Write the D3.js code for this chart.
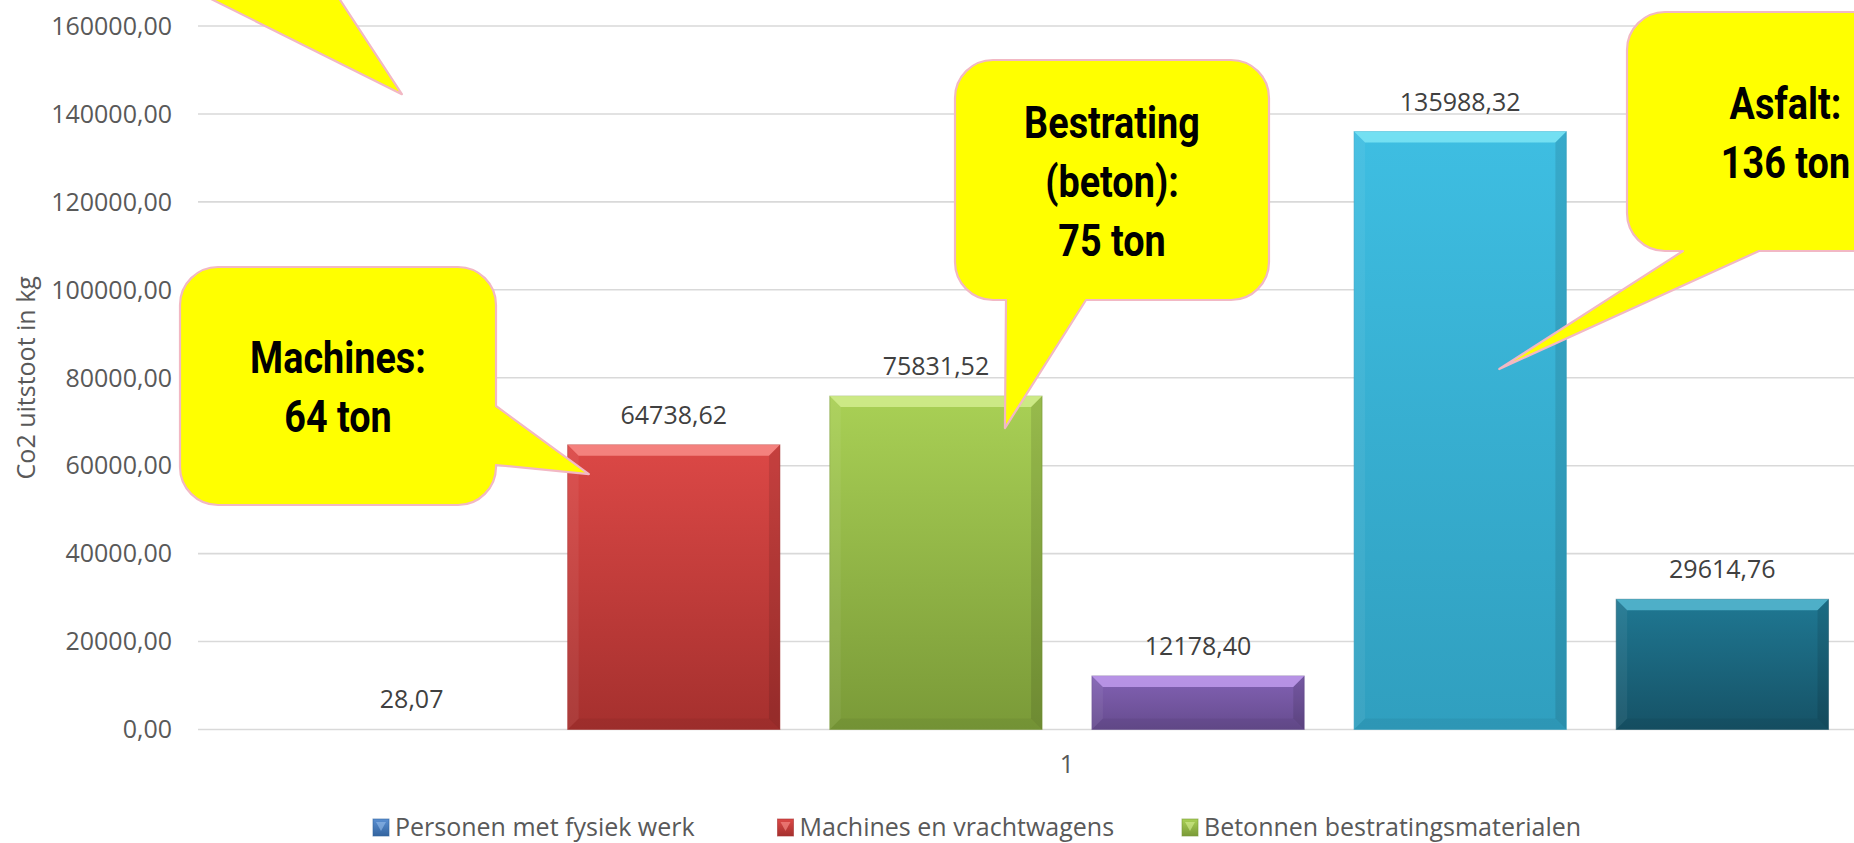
<!DOCTYPE html>
<html>
<head>
<meta charset="utf-8">
<script src="https://cdn.jsdelivr.net/npm/d3@7"></script>
<style>
  body { margin: 0; background: #fff; }
  svg { display: block; font-family: "Open Sans", sans-serif; }
</style>
</head>
<body>
<svg id="chart" width="1854" height="843"></svg>
<script>
// data
const categories = ["1"];
const values = [28.07, 64738.62, 75831.52, 12178.40, 135988.32, 29614.76];
const legendNames = ["Personen met fysiek werk", "Machines en vrachtwagens", "Betonnen bestratingsmaterialen"];
const yTicks = [0, 20000, 40000, 60000, 80000, 100000, 120000, 140000, 160000];
const yTitle = "Co2 uitstoot in kg";

// bar colours: top / bottom of the gradient, bevel highlight
const barColors = [
  ["#5a8fd2", "#33649f", "#9cc2ef"],
  ["#dc4846", "#a5302e", "#ff9a96"],
  ["#a9d055", "#7a9a38", "#dcf49a"],
  ["#8262b4", "#664b8e", "#cfa8fb"],
  ["#3ebee2", "#309fbf", "#8aeefa"],
  ["#1f7893", "#165266", "#62c8e0"]
];

// speech bubbles; tip given as (series, fraction across the bar, value)
const callouts = [
  {lines: [], series: 0, fx: 0.454, at: 144500, box: [100, -260, 420, -20], side: "bottom", base: [173, 327]},
  {lines: ["Machines:", "64 ton"], series: 1, fx: 0.1, at: 58100, box: [180, 267, 496, 505], side: "right", base: [406, 465]},
  {lines: ["Bestrating", "(beton):", "75 ton"], series: 2, fx: 0.825, at: 68560, box: [955, 60, 1269, 300], side: "bottom", base: [1006, 1086]},
  {lines: ["Asfalt:", "136 ton"], series: 4, fx: 0.684, at: 81980, box: [1627, 12, 1944, 251], side: "bottom", base: [1683, 1759]}
];

const nl = d3.formatLocale({decimal: ",", thousands: ".", grouping: [3], currency: ["€", ""]});
const fmt = nl.format(".2f");

const svg = d3.select("#chart");
const margin = {left: 198, right: 1936, top: 26, bottom: 729.5};

const x0 = d3.scaleBand(categories, [margin.left, margin.right]);
const x1 = d3.scaleBand(d3.range(values.length), [0, x0.bandwidth()])
    .paddingInner(0.19)
    .paddingOuter(0.41);
const y = d3.scaleLinear([0, 160000], [margin.bottom, margin.top]);

const defs = svg.append("defs");
barColors.forEach((c, i) => {
  const g = defs.append("linearGradient")
      .attr("id", "grad" + i)
      .attr("x1", 0).attr("y1", 0).attr("x2", 0).attr("y2", 1);
  g.append("stop").attr("offset", "0%").attr("stop-color", c[0]);
  g.append("stop").attr("offset", "100%").attr("stop-color", c[1]);
});

// gridlines
svg.append("g")
  .selectAll("line")
  .data(yTicks)
  .join("line")
    .attr("x1", margin.left)
    .attr("x2", margin.right)
    .attr("y1", d => y(d))
    .attr("y2", d => y(d))
    .attr("stroke", "#d9d9d9")
    .attr("stroke-width", 1.6);

// y tick labels
svg.append("g")
    .attr("fill", "#595959")
    .attr("font-size", 25)
    .attr("text-anchor", "end")
  .selectAll("text")
  .data(yTicks)
  .join("text")
    .attr("x", 172)
    .attr("y", d => y(d))
    .attr("dy", "0.35em")
    .text(d => fmt(d));

svg.append("text")
    .attr("transform", `translate(35,${(margin.top + margin.bottom) / 2})rotate(-90)`)
    .attr("text-anchor", "middle")
    .attr("fill", "#595959")
    .attr("font-size", 25)
    .text(yTitle);

// category label
svg.append("text")
    .attr("x", x0("1") + x0.bandwidth() / 2)
    .attr("y", 773)
    .attr("text-anchor", "middle")
    .attr("fill", "#595959")
    .attr("font-size", 25)
    .text(categories[0]);

// bars with a bevel
const bw = x1.bandwidth();
const bars = svg.append("g")
  .selectAll("g")
  .data(values.map((v, i) => ({v, i})).filter(d => y(0) - y(d.v) >= 1))
  .join("g")
    .attr("transform", d => `translate(${x0("1") + x1(d.i)},0)`);

bars.append("rect")
    .attr("y", d => y(d.v))
    .attr("width", bw)
    .attr("height", d => y(0) - y(d.v))
    .attr("fill", d => `url(#grad${d.i})`)
    .attr("stroke", d => barColors[d.i][1])
    .attr("stroke-opacity", 0.5);

function bevel(d) {
  const t = y(d.v), h = y(0) - t, b = Math.min(11, h / 2), w = bw;
  return [
    {pts: [[0, t], [w, t], [w - b, t + b], [b, t + b]], fill: barColors[d.i][2], op: 0.7},
    {pts: [[0, t], [b, t + b], [b, t + h - b], [0, t + h]], fill: "#ffffff", op: 0.06},
    {pts: [[w, t], [w - b, t + b], [w - b, t + h - b], [w, t + h]], fill: "#000000", op: 0.1},
    {pts: [[0, t + h], [b, t + h - b], [w - b, t + h - b], [w, t + h]], fill: "#000000", op: 0.05}
  ];
}

bars.selectAll("polygon")
  .data(d => bevel(d))
  .join("polygon")
    .attr("points", p => p.pts.join(" "))
    .attr("fill", p => p.fill)
    .attr("fill-opacity", p => p.op);

// value labels
svg.append("g")
    .attr("fill", "#404040")
    .attr("font-size", 25)
    .attr("text-anchor", "middle")
  .selectAll("text")
  .data(values.map((v, i) => ({v, i})))
  .join("text")
    .attr("x", d => x0("1") + x1(d.i) + bw / 2)
    .attr("y", d => y(d.v) - 21)
    .text(d => fmt(d.v));

// legend
const legend = svg.append("g")
  .selectAll("g")
  .data(legendNames)
  .join("g")
    .attr("transform", (d, i) => `translate(${373 + i * 404.5},819)`);

legend.append("rect")
    .attr("width", 16)
    .attr("height", 17)
    .attr("fill", (d, i) => `url(#grad${i})`)
    .attr("stroke", (d, i) => barColors[i][1])
    .attr("stroke-opacity", 0.6);

legend.append("polygon")
    .attr("points", "3,3 13,3 8,12")
    .attr("fill", (d, i) => barColors[i][2])
    .attr("fill-opacity", 0.55);

legend.append("text")
    .attr("x", 22)
    .attr("y", 17)
    .attr("fill", "#595959")
    .attr("font-size", 25)
    .text(d => d);

// callouts
function calloutPath(c, tip) {
  const [x0, y0, x1, y1] = c.box, r = 38, [a, b] = c.base;
  const p = d3.path();
  p.moveTo(x0 + r, y0);
  p.lineTo(x1 - r, y0);
  p.arcTo(x1, y0, x1, y0 + r, r);
  if (c.side === "right") { p.lineTo(x1, a); p.lineTo(tip[0], tip[1]); p.lineTo(x1, b); }
  p.lineTo(x1, y1 - r);
  p.arcTo(x1, y1, x1 - r, y1, r);
  if (c.side === "bottom") { p.lineTo(b, y1); p.lineTo(tip[0], tip[1]); p.lineTo(a, y1); }
  p.lineTo(x0 + r, y1);
  p.arcTo(x0, y1, x0, y1 - r, r);
  p.lineTo(x0, y0 + r);
  p.arcTo(x0, y0, x0 + r, y0, r);
  p.closePath();
  return p.toString();
}

const bubble = svg.append("g")
  .selectAll("g")
  .data(callouts)
  .join("g");

bubble.append("path")
    .attr("d", c => calloutPath(c, [x0("1") + x1(c.series) + c.fx * bw, y(c.at)]))
    .attr("fill", "#ffff00")
    .attr("stroke", "#f2b8c4")
    .attr("stroke-width", 2.2)
    .attr("stroke-linejoin", "round");

// condensed bold look: Roboto squeezed horizontally
bubble.each(function(c) {
  const cx = (c.box[0] + c.box[2]) / 2, cy = (c.box[1] + c.box[3]) / 2;
  const n = c.lines.length;
  d3.select(this).selectAll("text")
    .data(c.lines)
    .join("text")
      .attr("transform", (d, i) => `translate(${cx},${cy + (i - (n - 1) / 2) * 59 + 16.5})scale(0.84,1)`)
      .attr("text-anchor", "middle")
      .attr("font-family", "Roboto, sans-serif")
      .attr("font-weight", "bold")
      .attr("font-size", 45)
      .attr("fill", "#000")
      .text(d => d);
});
</script>
</body>
</html>
